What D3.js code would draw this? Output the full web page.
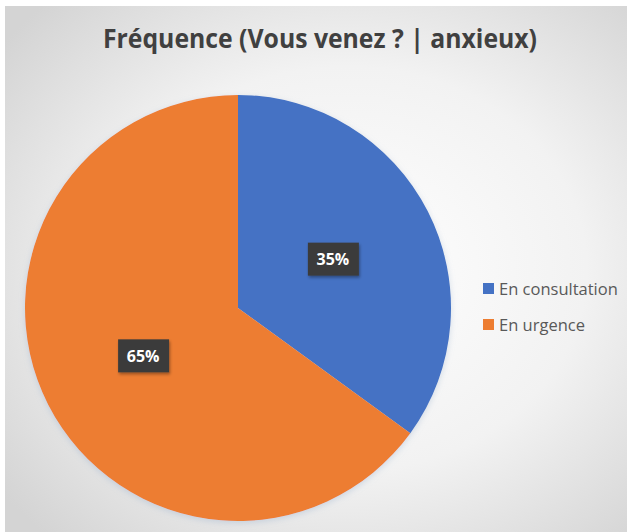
<!DOCTYPE html>
<html>
<head>
<meta charset="utf-8">
<script src="https://cdn.jsdelivr.net/npm/d3@7"></script>
<style>
  html, body { margin: 0; padding: 0; background: #ffffff; }
  svg { display: block; }
</style>
</head>
<body>
<div id="chart"></div>
<script>
var categories = ["En consultation", "En urgence"]
var values = [35, 65]
var colors = ["#4472C4", "#ED7D31"]
var title = "Fréquence (Vous venez ? | anxieux)"

var W = 627, H = 532
var cx = 238, cy = 308, R = 213

var svg = d3.select('#chart').append('svg')
  .attr('width', W)
  .attr('height', H)

var defs = svg.append('defs')
var grad = defs.append('radialGradient')
  .attr('id', 'bg')
  .attr('cx', '0.55').attr('cy', '0.5').attr('r', '0.7')
grad.append('stop').attr('offset', '0%').attr('stop-color', '#ffffff')
grad.append('stop').attr('offset', '55%').attr('stop-color', '#f2f2f2')
grad.append('stop').attr('offset', '100%').attr('stop-color', '#d4d4d4')

var shadow = defs.append('filter').attr('id', 'sh')
  .attr('x', '-20%').attr('y', '-20%').attr('width', '140%').attr('height', '140%')
shadow.append('feDropShadow')
  .attr('dx', 1).attr('dy', 2).attr('stdDeviation', 1.5)
  .attr('flood-color', '#000').attr('flood-opacity', 0.35)

var pieShadow = defs.append('filter').attr('id', 'psh')
  .attr('x', '-10%').attr('y', '-10%').attr('width', '120%').attr('height', '120%')
pieShadow.append('feDropShadow')
  .attr('dx', 0).attr('dy', 2).attr('stdDeviation', 3)
  .attr('flood-color', '#8aa6c8').attr('flood-opacity', 0.35)

// fond
svg.append('rect')
  .attr('x', 5).attr('y', 6)
  .attr('width', W - 5).attr('height', H - 6)
  .attr('fill', 'url(#bg)')

// titre
svg.append('text')
  .attr('x', 320).attr('y', 48)
  .attr('text-anchor', 'middle')
  .attr('font-family', 'Open Sans, sans-serif')
  .attr('font-weight', 700)
  .attr('font-size', 27)
  .attr('fill', '#404040')
  .attr('textLength', 434)
  .attr('lengthAdjust', 'spacingAndGlyphs')
  .text(title)

var pie = d3.pie().sort(null).value(function(d){ return d })
var arcs = pie(values)
var arc = d3.arc().innerRadius(0).outerRadius(R)
var labelArc = d3.arc().innerRadius(R * 0.5).outerRadius(R * 0.5)

var g = svg.append('g').attr('transform', 'translate(' + cx + ',' + cy + ')')

g.append('g').attr('filter', 'url(#psh)')
  .selectAll('path.slice')
  .data(arcs)
  .enter().append('path')
  .attr('class', 'slice')
  .attr('d', arc)
  .attr('fill', function(d, i){ return colors[i] })
  .attr('stroke', 'none')

// etiquettes
var lab = g.selectAll('g.lab')
  .data(arcs)
  .enter().append('g')
  .attr('class', 'lab')
  .attr('transform', function(d){
    var c = labelArc.centroid(d)
    return 'translate(' + c[0] + ',' + c[1] + ')'
  })

lab.append('rect')
  .attr('x', -25).attr('y', -17)
  .attr('width', 51).attr('height', 33)
  .attr('fill', '#3b3b3b')
  .attr('filter', 'url(#sh)')

lab.append('text')
  .attr('text-anchor', 'middle')
  .attr('dy', '0.35em')
  .attr('font-family', 'Open Sans, sans-serif')
  .attr('font-weight', 700)
  .attr('font-size', 16)
  .attr('fill', '#ffffff')
  .text(function(d){ return d.data + '%' })

// legende
var leg = svg.selectAll('g.leg')
  .data(categories)
  .enter().append('g')
  .attr('class', 'leg')
  .attr('transform', function(d, i){ return 'translate(483,' + (283 + i * 36) + ')' })

leg.append('rect')
  .attr('width', 11).attr('height', 11)
  .attr('fill', function(d, i){ return colors[i] })

leg.append('text')
  .attr('x', 16).attr('y', 6)
  .attr('dy', '0.35em')
  .attr('font-family', 'Open Sans, sans-serif')
  .attr('font-size', 16.5)
  .attr('fill', '#595959')
  .text(function(d){ return d })
</script>
</body>
</html>
